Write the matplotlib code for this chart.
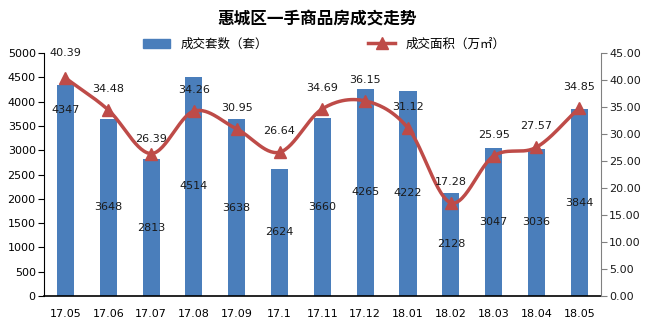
import numpy as np
import matplotlib.pyplot as plt
from matplotlib.patches import Patch
from matplotlib.lines import Line2D

plt.rcParams['font.family'] = ['DejaVu Sans', 'Noto Sans CJK SC']

months = ['17.05', '17.06', '17.07', '17.08', '17.09', '17.1', '17.11',
          '17.12', '18.01', '18.02', '18.03', '18.04', '18.05']
taoshu = [4347, 3648, 2813, 4514, 3638, 2624, 3660, 4265, 4222, 2128, 3047, 3036, 3844]
mianji = [40.39, 34.48, 26.39, 34.26, 30.95, 26.64, 34.69, 36.15, 31.12, 17.28, 25.95, 27.57, 34.85]

blue = '#4A7EBB'
red = '#BE4B48'
cjk = ['Noto Sans CJK SC', 'DejaVu Sans']
fs = 8


def smooth(xs, ys, n=30):
    # catmull-rom, like excel's smoothed line
    xs = np.asarray(xs, float)
    ys = np.asarray(ys, float)
    px = np.concatenate([[2 * xs[0] - xs[1]], xs, [2 * xs[-1] - xs[-2]]])
    py = np.concatenate([[2 * ys[0] - ys[1]], ys, [2 * ys[-1] - ys[-2]]])
    ox, oy = [], []
    for i in range(1, len(px) - 2):
        t = np.linspace(0, 1, n, endpoint=False)
        for p, o in ((px, ox), (py, oy)):
            p0, p1, p2, p3 = p[i - 1], p[i], p[i + 1], p[i + 2]
            o.extend(0.5 * (2 * p1 + (-p0 + p2) * t + (2 * p0 - 5 * p1 + 4 * p2 - p3) * t ** 2
                            + (-p0 + 3 * p1 - 3 * p2 + p3) * t ** 3))
    ox.append(xs[-1])
    oy.append(ys[-1])
    return np.array(ox), np.array(oy)


fig = plt.figure(figsize=(6.48, 3.26), dpi=100)
ax = fig.add_axes([0.068, 0.092, 0.859, 0.745])
ax2 = ax.twinx()

x = np.arange(len(months))
ax.bar(x, taoshu, width=0.4, color=blue, zorder=2)
ax.set_xlim(-0.5, len(months) - 0.5)
ax.set_ylim(0, 5000)
ax.set_yticks(np.arange(0, 5001, 500))
ax.set_xticks(x)
ax.set_xticklabels(months)
ax.tick_params(axis='x', length=0, labelsize=fs, pad=9)
ax.tick_params(axis='y', length=4, labelsize=fs, direction='out', pad=2)
for s in ['top', 'right']:
    ax.spines[s].set_visible(False)
ax.spines['left'].set_color('black')
ax.spines['bottom'].set_linewidth(1.2)

for i, v in enumerate(taoshu):
    ly = v / 2
    if i == 0:
        ly = 3830
    ax.text(i, ly, str(v), ha='center', va='center', fontsize=fs, color='#1a1a1a', zorder=5)

sx, sy = smooth(x, mianji)
ax2.plot(sx, sy, color=red, lw=2.5, zorder=3)
ax2.plot(x, mianji, ls='none', marker='^', ms=8, color=red, zorder=4)
ax2.set_ylim(0, 45)
ax2.set_yticks(np.arange(0, 45.1, 5))
ax2.set_yticklabels(['%.2f' % t for t in np.arange(0, 45.1, 5)])
ax2.tick_params(axis='y', length=4, labelsize=fs, labelcolor='#1a1a1a', color='#808080', pad=2)
for s in ['top', 'left', 'bottom']:
    ax2.spines[s].set_visible(False)
ax2.spines['right'].set_color('#808080')

for i, v in enumerate(mianji):
    off = 21
    if i == 0:
        off = 25
    elif i == 2:
        off = 15
    ax2.annotate('%.2f' % v, (i, v), xytext=(0, off), textcoords='offset pixels',
                 ha='center', va='center', fontsize=fs, color='#1a1a1a', zorder=5)

fig.text(0.49, 0.94, '惠城区一手商品房成交走势', ha='center', va='center',
         fontsize=12, fontweight='bold', family=cjk)

handles = [Patch(color=blue), Line2D([], [], color=red, lw=2.5, marker='^', ms=8)]
fig.legend(handles, ['成交套数（套）', '成交面积（万㎡）'], loc='center',
           bbox_to_anchor=(0.5, 0.865), ncol=2, frameon=False, columnspacing=8,
           handlelength=2.2, prop={'family': cjk, 'size': 9})

fig.savefig('out.png', dpi=100)
